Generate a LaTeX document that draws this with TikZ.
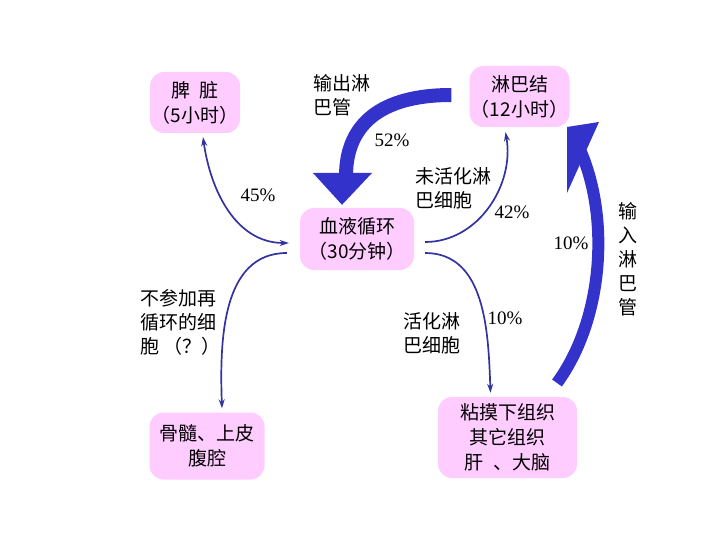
\documentclass[tikz,border=0pt]{standalone}
\usepackage{fontspec}
\setmainfont{Liberation Serif}
\newfontfamily\cjk{Noto Sans CJK SC}
\usetikzlibrary{arrows.meta}
\definecolor{boxpink}{HTML}{FFCCFF}
\definecolor{thinblue}{HTML}{3333A0}
\definecolor{thickblue}{HTML}{3333CC}
\begin{document}
\begin{tikzpicture}[x=1bp,y=-1bp,
 box/.style={fill=boxpink, rounded corners=14bp, align=center, inner sep=0pt, font=\cjk\fontsize{19bp}{25bp}\selectfont},
 lab/.style={align=left, inner sep=0pt, font=\cjk\fontsize{19bp}{24bp}\selectfont},
 pct/.style={inner sep=0pt, font=\fontsize{19bp}{22bp}\selectfont},
 link/.style={draw=thinblue, line width=1.7bp, -{Stealth[length=9bp,width=6bp]}},
 bigshaft/.style={draw=thickblue, line width=14bp},
 bighead/.style={fill=thickblue},
]
\useasboundingbox (0,0) rectangle (720,540);
% boxes
\node[box, minimum width=90bp, minimum height=61bp] (spleen) at (195,102.5) {脾\hspace{0.5em}脏\\（5小时）};
\node[box, minimum width=100bp, minimum height=61bp] (lymph) at (519.5,96.5) {淋巴结\\（12小时）};
\node[box, minimum width=114bp, minimum height=62bp] (blood) at (357,239) {血液循环\\（30分钟）};
\node[box, minimum width=115bp, minimum height=67bp] (bone) at (207,446) {骨髓、上皮\\腹腔};
\node[box, minimum width=139bp, minimum height=81bp] (tissue) at (507.5,437.5) {粘摸下组织\\其它组织\\肝\hspace{0.5em}、大脑};
% thin connectors
\draw[link, {Stealth[length=9bp,width=6bp]}-{Stealth[length=9bp,width=6bp]}]
  ([xshift=8bp,yshift=-4bp]spleen.south) to[out=-82,in=180] ([xshift=-11bp,yshift=-4bp]blood.west);
\draw[link] ([xshift=-13bp,yshift=-14bp]blood.west) to[out=180,in=92] ([xshift=15bp,yshift=4bp]bone.north);
\draw[link] ([xshift=11bp,yshift=-3bp]blood.east) to[out=0,in=-80] ([xshift=-14bp,yshift=-5bp]lymph.south);
\draw[link] ([xshift=11bp,yshift=-14bp]blood.east) to[out=0,in=92] ([xshift=-17bp,yshift=4bp]tissue.north);
% thick arrow: output lymph vessel (52%)
\coordinate (outS) at ([xshift=-18bp,yshift=1.5bp]lymph.west);
\coordinate (outE) at (346,176);
\draw[bigshaft] (outS) .. controls (380,95) and (346,125) .. (outE);
\fill[bighead] (313,173) -- (372,173) -- ([xshift=-15bp,yshift=3bp]blood.north) -- cycle;
% thick arrow: input lymph vessel (10%)
\coordinate (inS) at (557,383);
\coordinate (inE) at (581,152);
\draw[bigshaft, line width=12bp] (inS) .. controls (603,320) and (610,220) .. (inE);
\fill[bighead] (567,127) -- (599,122) -- (567,193) -- cycle;
% labels
\node[lab, anchor=west] (outlab) at (313,95) {输出淋\\巴管};
\node[pct] (p52) at (392,140) {52\%};
\node[pct] (p45) at (258,195) {45\%};
\node[lab, anchor=west] (unact) at (415,188) {未活化淋\\巴细胞};
\node[pct] (p42) at (512,212) {42\%};
\node[pct] (p10a) at (571,243) {10\%};
\node[lab, anchor=west] (act) at (403,333) {活化淋\\巴细胞};
\node[pct] (p10b) at (505,318) {10\%};
\node[lab, anchor=west] (nonrec) at (140,322) {不参加再\\循环的细\\胞 （？）};
\node[lab, align=center] (inlab) at (628,259) {输\\入\\淋\\巴\\管};
\end{tikzpicture}
\end{document}
